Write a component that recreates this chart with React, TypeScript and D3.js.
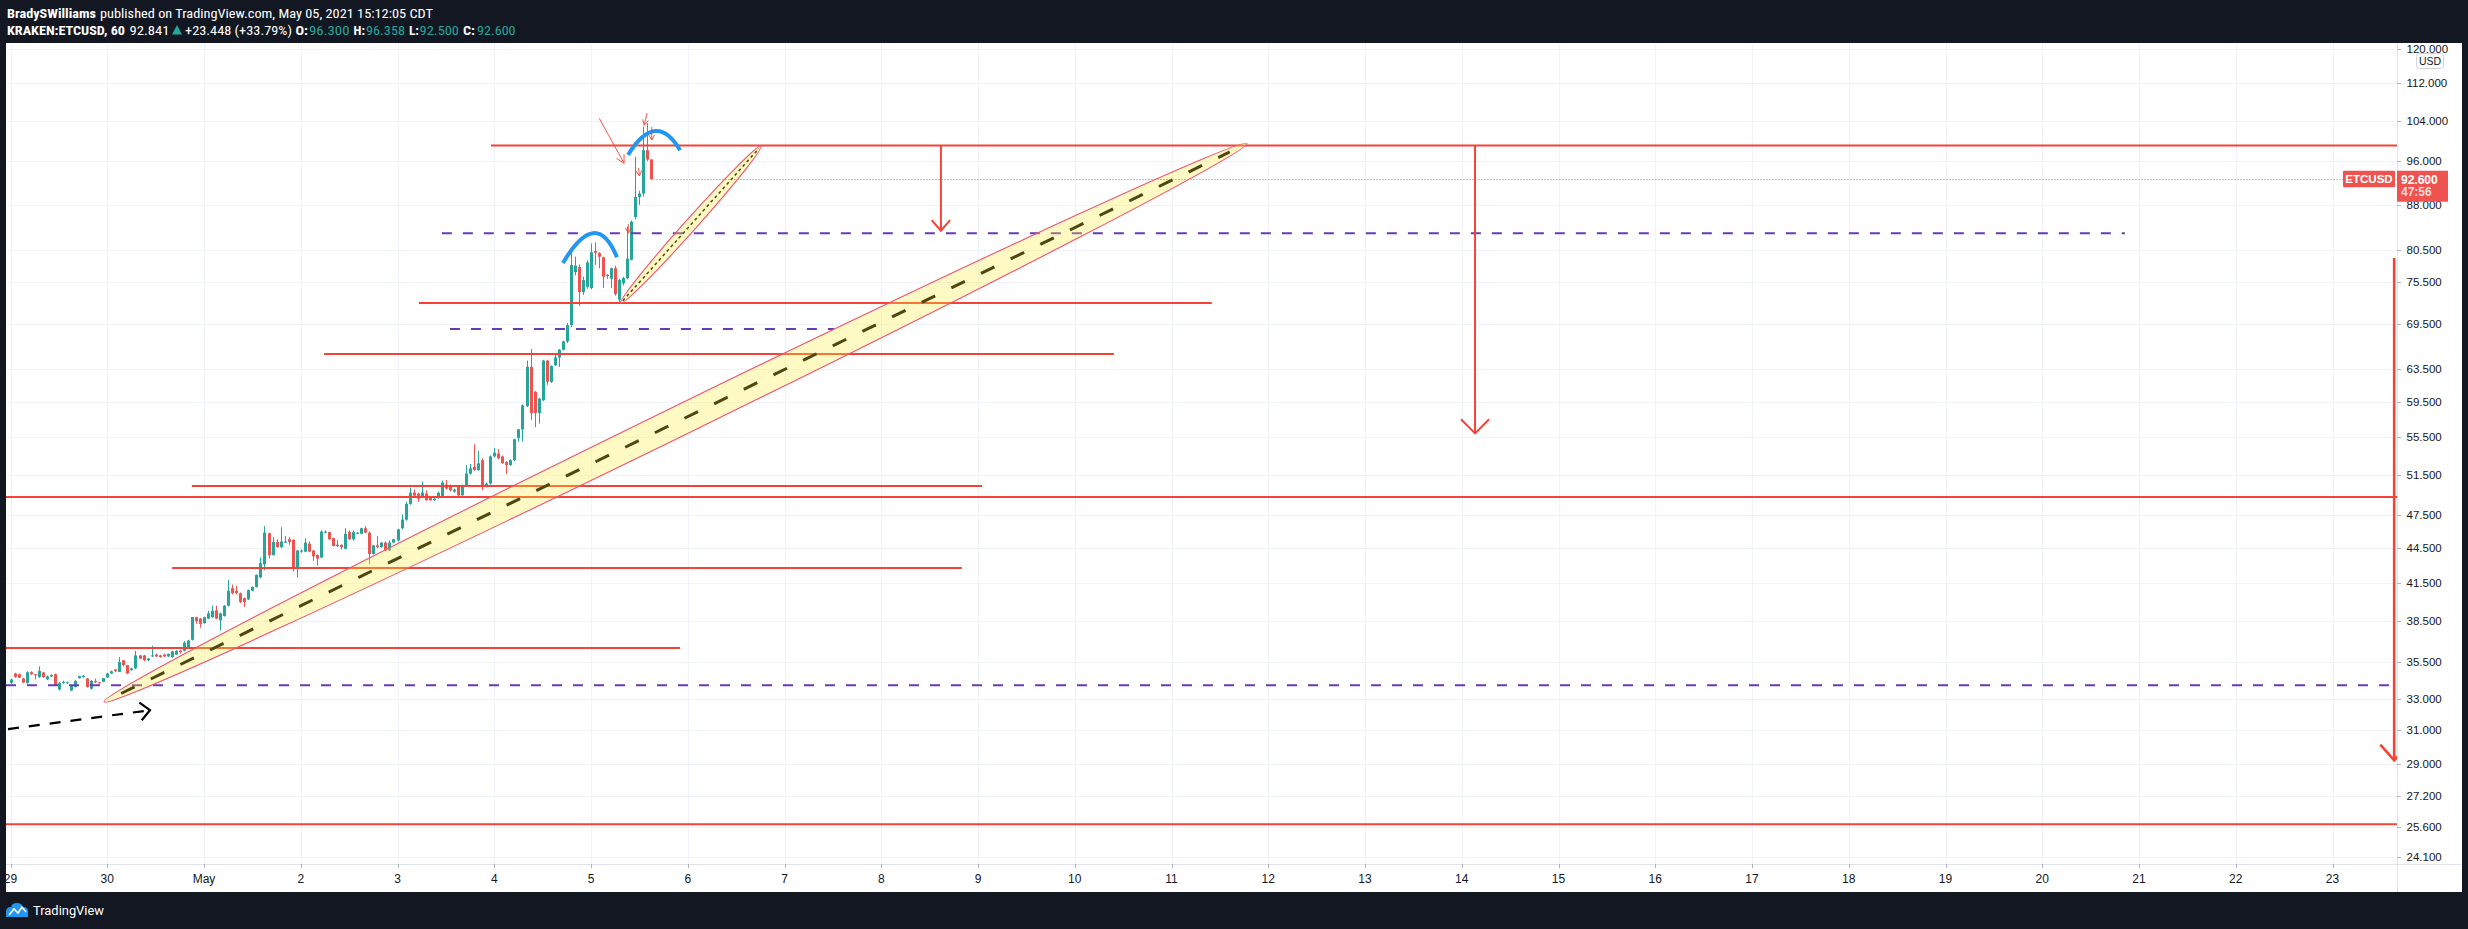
import React from 'react';
import * as d3 from 'd3';

type Bar = [number, number, number, number]; // open, high, low, close

// ---------- hourly candles (CDT), KRAKEN:ETCUSD 60 ----------
const apr29: Bar[] = [
  [34.06,34.35,34.0,34.29],[34.7,34.75,34.4,34.47],[34.65,34.7,34.38,34.42],[34.36,34.4,34.03,34.08],
  [34.06,34.86,34.0,34.79],[34.79,34.85,34.6,34.65],[34.65,34.66,34.3,34.6],[34.45,35.2,34.4,34.88],
  [34.77,34.8,34.4,34.45],[34.3,34.55,34.25,34.5],[34.5,34.65,34.45,34.6],[34.65,34.7,33.85,33.9],
  [33.62,34.1,33.55,34.06],[34.06,34.2,34.0,34.13],[34.05,34.15,34.0,34.1],[33.55,33.9,33.5,33.85],
  [33.78,34.25,33.75,34.19],[34.38,34.55,34.35,34.52],[34.45,34.58,34.42,34.55],[34.36,34.4,33.75,33.78],
  [33.67,34.25,33.6,34.19],[34.19,34.35,34.05,34.1],[34.1,34.12,34.0,34.06],[34.13,34.4,34.1,34.38],
];
const apr30: Bar[] = [
  [34.42,34.75,34.4,34.7],[34.7,34.9,34.68,34.86],[34.98,35.0,34.8,34.86],[34.81,35.85,34.8,35.5],
  [35.62,35.65,35.2,35.28],[35.28,35.3,34.65,34.7],[34.93,35.1,34.9,35.05],[35.05,36.3,35.0,35.97],
  [35.97,36.0,35.7,35.74],[35.97,36.0,35.55,35.62],[35.62,35.8,35.55,35.74],[35.9,36.66,35.85,35.97],
  [36.03,36.1,35.85,35.9],[35.97,36.0,35.8,35.85],[36.03,36.1,35.85,35.9],[35.9,36.1,35.85,36.08],
  [35.85,36.3,35.8,36.26],[36.03,36.35,36.0,36.3],[36.3,36.35,36.1,36.2],[36.3,37.0,36.25,36.9],
  [36.5,37.1,36.45,37.05],[37.1,38.82,37.05,38.82],[38.8,38.85,38.3,38.5],[38.7,38.75,38.0,38.3],
];
const may1: Bar[] = [
  [38.35,38.85,38.3,38.8],[38.7,39.3,38.65,39.1],[38.8,39.7,38.75,39.3],[39.34,39.7,38.65,38.7],
  [38.56,39.15,37.8,39.1],[38.9,39.75,38.85,39.7],[39.7,41.8,39.65,40.9],[41.1,41.4,40.6,40.7],
  [40.9,41.3,40.6,40.7],[40.7,40.75,39.9,40.0],[40.3,40.35,39.6,40.0],[40.2,41.0,40.15,40.95],
  [40.9,41.25,40.85,41.2],[41.2,42.25,41.15,42.2],[42.0,43.7,41.95,43.2],[43.1,46.5,42.6,45.9],
  [45.85,45.9,43.6,43.9],[43.9,45.5,43.85,45.05],[45.05,45.3,44.55,44.6],[44.6,46.4,44.5,45.1],
  [45.0,45.6,44.95,45.1],[45.3,45.5,44.8,45.05],[45.25,45.3,42.5,42.7],[42.7,44.35,42.0,44.3],
];
const may2: Bar[] = [
  [44.2,44.4,44.1,44.3],[44.2,45.4,44.15,45.0],[44.9,45.1,44.15,44.2],[44.3,44.35,43.4,43.8],
  [43.9,43.95,43.0,43.6],[43.7,46.1,43.65,46.0],[45.9,46.1,45.85,46.0],[45.95,46.0,45.25,45.3],
  [45.4,45.45,44.65,44.7],[44.7,45.2,44.6,44.8],[44.8,44.85,44.4,44.6],[44.45,46.3,44.4,45.8],
  [45.95,46.1,45.25,45.3],[45.3,46.1,45.2,45.95],[45.8,45.95,45.75,45.9],[45.8,46.35,45.75,46.3],
  [46.3,46.5,45.85,45.9],[45.9,46.0,43.1,44.0],[44.0,44.8,43.95,44.75],[44.75,45.6,44.5,44.6],
  [44.6,45.05,44.55,45.0],[45.0,45.1,44.25,44.3],[44.3,45.2,44.25,45.0],[45.0,45.35,44.95,45.3],
];
const may3: Bar[] = [
  [45.2,46.25,45.1,46.2],[46.3,47.6,46.2,47.1],[47.1,48.8,47.0,48.6],[48.6,50.2,48.5,49.7],
  [49.7,50.0,49.2,49.4],[49.6,49.7,48.8,49.1],[49.3,50.8,49.2,49.7],[49.6,49.9,48.9,48.95],
  [49.27,49.35,48.9,48.95],[48.95,49.2,48.9,49.1],[49.27,49.8,49.1,49.67],[49.3,50.9,49.2,50.7],
  [50.5,50.95,50.0,50.1],[50.27,50.5,49.8,49.93],[49.8,50.1,49.7,50.0],[50.27,50.3,49.35,49.43],
  [49.43,50.5,49.4,50.43],[50.4,52.5,50.3,51.62],[51.6,52.6,51.5,52.15],[52.3,54.7,51.9,51.97],
  [51.97,54.0,51.9,52.67],[53.0,53.2,49.93,50.27],[50.27,50.7,50.2,50.6],[50.6,53.5,50.5,53.4],
];
const may4: Bar[] = [
  [53.4,54.3,53.3,53.8],[53.7,54.2,53.1,53.2],[53.4,53.5,52.6,52.7],[52.8,52.9,51.55,52.5],
  [52.5,53.1,52.4,53.0],[53.0,55.3,52.9,55.25],[55.4,56.4,55.0,56.35],[56.35,59.2,55.0,59.1],
  [59.0,64.6,58.9,63.8],[63.8,66.1,57.4,58.2],[60.7,60.8,56.6,58.2],[58.2,60.0,57.0,59.9],
  [59.7,64.7,59.6,64.6],[64.6,64.7,61.55,61.95],[61.9,64.0,61.8,63.9],[64.0,65.5,63.9,65.0],
  [65.0,66.1,63.8,66.0],[66.0,67.2,65.9,67.1],[67.1,69.6,66.9,69.3],[69.3,80.5,69.0,78.1],
  [77.0,79.4,76.5,78.0],[77.8,78.2,72.0,74.0],[74.0,76.3,73.6,75.8],[74.8,78.8,74.5,78.5],
];
const may5: Bar[] = [
  [74.6,81.5,74.4,80.1],[80.3,81.7,78.1,80.0],[80.0,80.1,77.6,79.4],[79.3,79.4,74.6,76.3],
  [76.6,76.7,76.0,76.4],[76.0,77.7,74.6,77.6],[77.6,78.0,73.5,73.7],[72.9,76.0,72.4,75.8],
  [75.3,76.3,75.0,76.1],[76.1,84.3,75.9,79.1],[78.9,85.3,78.8,85.1],[85.9,96.8,85.5,89.4],
  [89.4,90.5,88.0,90.0],[90.0,102.8,89.5,98.1],[98.1,103.5,96.0,96.3],[96.3,96.358,92.5,92.6],
];
const days: Bar[][] = [apr29, apr30, may1, may2, may3, may4, may5];

// ---------- axes ----------
const priceTicks = [120, 112, 104, 96, 88, 80.5, 75.5, 69.5, 63.5, 59.5, 55.5, 51.5, 47.5, 44.5, 41.5, 38.5, 35.5, 33, 31, 29, 27.2, 25.6, 24.1];
const dayLabels = ['29', '30', 'May', '2', '3', '4', '5', '6', '7', '8', '9', '10', '11', '12', '13', '14', '15', '16', '17', '18', '19', '20', '21', '22', '23'];
const lastPrice = 92.6;
const countdown = '47:56';

// ---------- drawings (hour index from Apr 29 00:00, price) ----------
// to = null: extends to the right edge; from = null: extends to the left edge
const redLevels = [
  { price: 99.0, from: 119.2, to: null },
  { price: 72.43, from: 101.3, to: 298.0 },
  { price: 65.45, from: 77.8, to: 273.7 },
  { price: 50.35, from: 45.0, to: 241.0 },
  { price: 49.26, from: null, to: null },
  { price: 42.78, from: 40.1, to: 236.0 },
  { price: 36.5, from: null, to: 166.1 },
  { price: 25.72, from: null, to: null },
];
const purpleLevels = [
  { price: 83.2, from: 107.0, to: 524.5 },
  { price: 68.77, from: 109.0, to: 204.3 },
  { price: 33.9, from: null, to: null },
];
const bigChannel = { start: [23.19, 32.8], end: [306.7, 99.4] };
const smallChannel = { start: [151.37, 72.4], end: [186.17, 98.9] };
const downArrows = [
  { hour: 230.8, from: 99.0, to: 83.6 },
  { hour: 363.3, from: 99.0, to: 55.9 },
  { hour: 591.3, from: 79.2, to: 29.2 },
];
const blackArrow = { start: [-0.62, 31.07], end: [34.6, 32.26] };
const blueArcs = [
  { start: [137.05, 78.4], peak: [144.5, 83.2], end: [150.45, 79.3] },
  { start: [153.2, 97.2], peak: [159.9, 101.9], end: [166.1, 98.1] },
];
const thinArrows = [
  { start: [146.06, 104.5], end: [152.2, 95.6] },
  { start: [157.9, 105.6], end: [157.2, 103.1] },
  { start: [159.06, 102.7], end: [159.06, 100.1] },
  { start: [153.25, 84.7], end: [153.25, 83.2] },
  { start: [155.8, 94.7], end: [156.0, 93.2] },
];

// ---------- layout ----------
const W = 2468, H = 929;
const PL = 6, PR = 2397, PT = 43, PB = 864, PANEL_R = 2462, PANEL_B = 892;
const DAY_PX = 96.75;
const BG = '#131722';
const UP = '#26a69a', DOWN = '#ef5350', RED = '#f44336', PURPLE = '#673ab7';

function head(x1: number, y1: number, x2: number, y2: number, len: number, phi: number) {
  const a = Math.atan2(y2 - y1, x2 - x1);
  const w1 = [x2 - len * Math.cos(a - phi), y2 - len * Math.sin(a - phi)];
  const w2 = [x2 - len * Math.cos(a + phi), y2 - len * Math.sin(a + phi)];
  return `M${w1[0]},${w1[1]}L${x2},${y2}L${w2[0]},${w2[1]}`;
}

export default function App() {
  const x = d3.scaleLinear().domain([0, 24 * 25]).range([10.5, 10.5 + 25 * DAY_PX]);
  const y = d3.scaleLog().domain([121.37, 23.77]).range([PT, PB]);
  const fmt = d3.format('.3f');

  const bars = days.flatMap((d, di) => d.map((b, h) => ({ t: di * 24 + h, o: b[0], hi: b[1], lo: b[2], c: b[3] })));
  const last = bars[bars.length - 1];

  const channel = (ch: { start: number[]; end: number[] }, ry: number, dash: string, dw: number, key: string) => {
    const x0 = x(ch.start[0]), y0 = y(ch.start[1]), x1 = x(ch.end[0]), y1 = y(ch.end[1]);
    const cx = (x0 + x1) / 2, cy = (y0 + y1) / 2;
    const rx = Math.hypot(x1 - x0, y1 - y0) / 2;
    const deg = (Math.atan2(y1 - y0, x1 - x0) * 180) / Math.PI;
    const t0 = 0.015, t1 = 0.985;
    return (
      <g key={key}>
        <line x1={x0 + (x1 - x0) * t0} y1={y0 + (y1 - y0) * t0} x2={x0 + (x1 - x0) * t1} y2={y0 + (y1 - y0) * t1}
          stroke="#000" strokeWidth={dw} strokeDasharray={dash} />
        <ellipse cx={cx} cy={cy} rx={rx} ry={ry} transform={`rotate(${deg} ${cx} ${cy})`}
          fill="rgba(255,235,59,0.3)" stroke="#f0506e" strokeWidth={1.1} />
      </g>
    );
  };

  const hdr = { fontFamily: '"Liberation Sans Narrow", "Roboto Condensed", Roboto, sans-serif', fontSize: 13.5 };
  const axisFont = { fontFamily: '"Liberation Sans", Arial, sans-serif', fontSize: 11.5 };

  return (
    <div style={{ position: 'absolute', left: 0, top: 0 }}>
      <svg width={W} height={H} style={{ display: 'block' }}>
        <defs>
          <clipPath id="plot"><rect x={PL} y={PT} width={PR - PL} height={PB - PT} /></clipPath>
          <clipPath id="paxis"><rect x={PR} y={PT} width={PANEL_R - PR} height={PB - PT} /></clipPath>
          <clipPath id="taxis"><rect x={PL} y={PB} width={PR - PL} height={PANEL_B - PB} /></clipPath>
        </defs>
        <rect x={0} y={0} width={W} height={H} fill={BG} />
        <rect x={PL} y={PT} width={PANEL_R - PL} height={PANEL_B - PT} fill="#fff" />

        {/* header */}
        <g fill="#fff" style={hdr}>
          <text x={7} y={17.5} fontWeight="bold" textLength={89} lengthAdjust="spacingAndGlyphs">BradySWilliams</text>
          <text x={100} y={17.5} textLength={333} lengthAdjust="spacingAndGlyphs">published on TradingView.com, May 05, 2021 15:12:05 CDT</text>
          <text x={7} y={35} fontWeight="bold" textLength={118} lengthAdjust="spacingAndGlyphs">KRAKEN:ETCUSD, 60</text>
          <text x={129.5} y={35} textLength={40} lengthAdjust="spacingAndGlyphs">92.841</text>
          <polygon points="172,34.5 182,34.5 177,25" fill={UP} />
          <text x={185} y={35} textLength={107} lengthAdjust="spacingAndGlyphs">+23.448 (+33.79%)</text>
          <text x={295.5} y={35} fontWeight="bold" textLength={12.5} lengthAdjust="spacingAndGlyphs">O:</text>
          <text x={309} y={35} fill={UP} textLength={40.5} lengthAdjust="spacingAndGlyphs">96.300</text>
          <text x={353.6} y={35} fontWeight="bold" textLength={11.4} lengthAdjust="spacingAndGlyphs">H:</text>
          <text x={366} y={35} fill={UP} textLength={39} lengthAdjust="spacingAndGlyphs">96.358</text>
          <text x={409} y={35} fontWeight="bold" textLength={10} lengthAdjust="spacingAndGlyphs">L:</text>
          <text x={419.6} y={35} fill={UP} textLength={39.4} lengthAdjust="spacingAndGlyphs">92.500</text>
          <text x={463} y={35} fontWeight="bold" textLength={12} lengthAdjust="spacingAndGlyphs">C:</text>
          <text x={477} y={35} fill={UP} textLength={38.6} lengthAdjust="spacingAndGlyphs">92.600</text>
        </g>

        {/* grid */}
        <g clipPath="url(#plot)" stroke="#f0f3fa" strokeWidth={1}>
          {priceTicks.map((p) => (
            <line key={'hg' + p} x1={PL} x2={PR} y1={Math.round(y(p)) + 0.5} y2={Math.round(y(p)) + 0.5} />
          ))}
          {dayLabels.map((_, i) => (
            <line key={'vg' + i} x1={Math.round(x(i * 24)) + 0.5} x2={Math.round(x(i * 24)) + 0.5} y1={PT} y2={PB} />
          ))}
        </g>

        <g clipPath="url(#plot)">
          {/* candles */}
          {bars.map((b) => {
            const cx = Math.round(x(b.t));
            const col = b.c >= b.o ? UP : DOWN;
            const top = y(Math.max(b.o, b.c)), bot = y(Math.min(b.o, b.c));
            return (
              <g key={'c' + b.t}>
                <line x1={cx + 0.5} x2={cx + 0.5} y1={y(b.hi)} y2={y(b.lo)} stroke={col} strokeWidth={1} />
                <rect x={cx - 1} y={top} width={3} height={Math.max(1, bot - top)} fill={col} />
              </g>
            );
          })}

          {/* horizontal levels */}
          {redLevels.map((l, i) => (
            <line key={'r' + i} x1={l.from === null ? PL : x(l.from)} x2={l.to === null ? PR : x(l.to)}
              y1={y(l.price)} y2={y(l.price)} stroke={RED} strokeWidth={2} />
          ))}
          {purpleLevels.map((l, i) => (
            <line key={'p' + i} x1={l.from === null ? PL : x(l.from)} x2={l.to === null ? PR : x(l.to)}
              y1={y(l.price)} y2={y(l.price)} stroke={PURPLE} strokeWidth={2} strokeDasharray="10 11" />
          ))}

          {/* channels */}
          {channel(bigChannel, 15, '15 18', 3, 'big')}
          {channel(smallChannel, 6, '3 3', 1.5, 'small')}

          {/* black dashed arrow */}
          {(() => {
            const x0 = x(blackArrow.start[0]), y0 = y(blackArrow.start[1]);
            const x1 = x(blackArrow.end[0]), y1 = y(blackArrow.end[1]);
            return (
              <g stroke="#000" strokeWidth={2.2} fill="none">
                <line x1={x0} y1={y0} x2={x1} y2={y1} strokeDasharray="11 10" />
                <path d={head(x0, y0, x1, y1, 13, 0.75)} />
              </g>
            );
          })()}

          {/* red vertical arrows */}
          {downArrows.map((a, i) => {
            const xx = x(a.hour), y0 = y(a.from), y1 = y(a.to);
            const len = i === 0 ? 14 : i === 1 ? 20 : 21;
            return (
              <g key={'da' + i} stroke={RED} strokeWidth={i === 2 ? 2.6 : 2} fill="none">
                <line x1={xx} x2={xx} y1={y0} y2={y1} />
                <path d={head(xx, y0, xx, y1, len, i === 1 ? 0.78 : 0.72)} />
              </g>
            );
          })}

          {/* blue arcs */}
          {blueArcs.map((a, i) => {
            const s = [x(a.start[0]), y(a.start[1])], p = [x(a.peak[0]), y(a.peak[1])], e = [x(a.end[0]), y(a.end[1])];
            const c = [2 * p[0] - (s[0] + e[0]) / 2, 2 * p[1] - (s[1] + e[1]) / 2];
            return <path key={'arc' + i} d={`M${s[0]},${s[1]}Q${c[0]},${c[1]} ${e[0]},${e[1]}`} stroke="#2196f3" strokeWidth={4} fill="none" />;
          })}

          {/* thin red arrows */}
          {thinArrows.map((a, i) => {
            const x0 = x(a.start[0]), y0 = y(a.start[1]), x1 = x(a.end[0]), y1 = y(a.end[1]);
            return (
              <g key={'ta' + i} stroke="#f44336" strokeWidth={1} fill="none" opacity={0.9}>
                <line x1={x0} y1={y0} x2={x1} y2={y1} />
                <path d={head(x0, y0, x1, y1, i === 0 ? 9 : 6, 0.5)} />
              </g>
            );
          })}

          {/* last price line */}
          <line x1={x(last.t) + 2} x2={PR} y1={Math.round(y(lastPrice)) + 0.5} y2={Math.round(y(lastPrice)) + 0.5}
            stroke={DOWN} strokeWidth={1} strokeDasharray="1 2" />
        </g>

        {/* price axis */}
        <line x1={PR + 0.5} x2={PR + 0.5} y1={PT} y2={PANEL_B} stroke="#e0e3eb" />
        <g clipPath="url(#paxis)" style={axisFont} fill="#131722">
          {priceTicks.map((p) => (
            <g key={'pt' + p}>
              <line x1={PR} x2={PR + 4} y1={Math.round(y(p)) + 0.5} y2={Math.round(y(p)) + 0.5} stroke="#b2b5be" />
              <text x={2406.5} y={y(p) + 4}>{fmt(p)}</text>
            </g>
          ))}
          <rect x={2416.5} y={53.5} width={27} height={15} rx={3} fill="#fff" stroke="#d1d4dc" />
          <text x={2430} y={64.5} textAnchor="middle" fontSize={10.5}>USD</text>
          <rect x={PR} y={y(lastPrice) - 8.5} width={51} height={31} fill={DOWN} />
          <text x={2401} y={y(lastPrice) + 4.5} fill="#fff" fontWeight="bold" fontSize={12}>{fmt(lastPrice)}</text>
          <text x={2401} y={y(lastPrice) + 17} fill="#fff" fillOpacity={0.8} fontWeight="bold" fontSize={12}>{countdown}</text>
        </g>
        <rect x={2343} y={y(lastPrice) - 8.5} width={52} height={16.5} rx={1} fill={DOWN} />
        <text x={2369} y={y(lastPrice) + 4} textAnchor="middle" fill="#fff" fontWeight="bold" style={axisFont}>ETCUSD</text>

        {/* time axis */}
        <line x1={PL} x2={PANEL_R} y1={PB + 0.5} y2={PB + 0.5} stroke="#e0e3eb" />
        <g clipPath="url(#taxis)" style={{ ...axisFont, fontSize: 12 }} fill="#131722">
          {dayLabels.map((lab, i) => (
            <g key={'tl' + i}>
              <line x1={Math.round(x(i * 24)) + 0.5} x2={Math.round(x(i * 24)) + 0.5} y1={PB} y2={PB + 4} stroke="#b2b5be" />
              <text x={x(i * 24)} y={883} textAnchor="middle">{lab}</text>
            </g>
          ))}
        </g>

        {/* logo */}
        <g transform="translate(6,903)">
          <path d="M0,14 L0,9 Q0,4 5,4 Q6,0 11,0 Q16,0 17,4 Q22,4 22,9 L22,14 Z" fill="#2196f3" />
          <path d="M3,12 L8,6 L12,10 L16,4 L20,9" stroke="#fff" strokeWidth={1.6} fill="none" />
        </g>
        <text x={33} y={915} fill="#fff" style={{ fontFamily: '"Liberation Sans Narrow", Roboto, sans-serif', fontSize: 12.5 }}
          textLength={71} lengthAdjust="spacingAndGlyphs">TradingView</text>
      </svg>
    </div>
  );
}
